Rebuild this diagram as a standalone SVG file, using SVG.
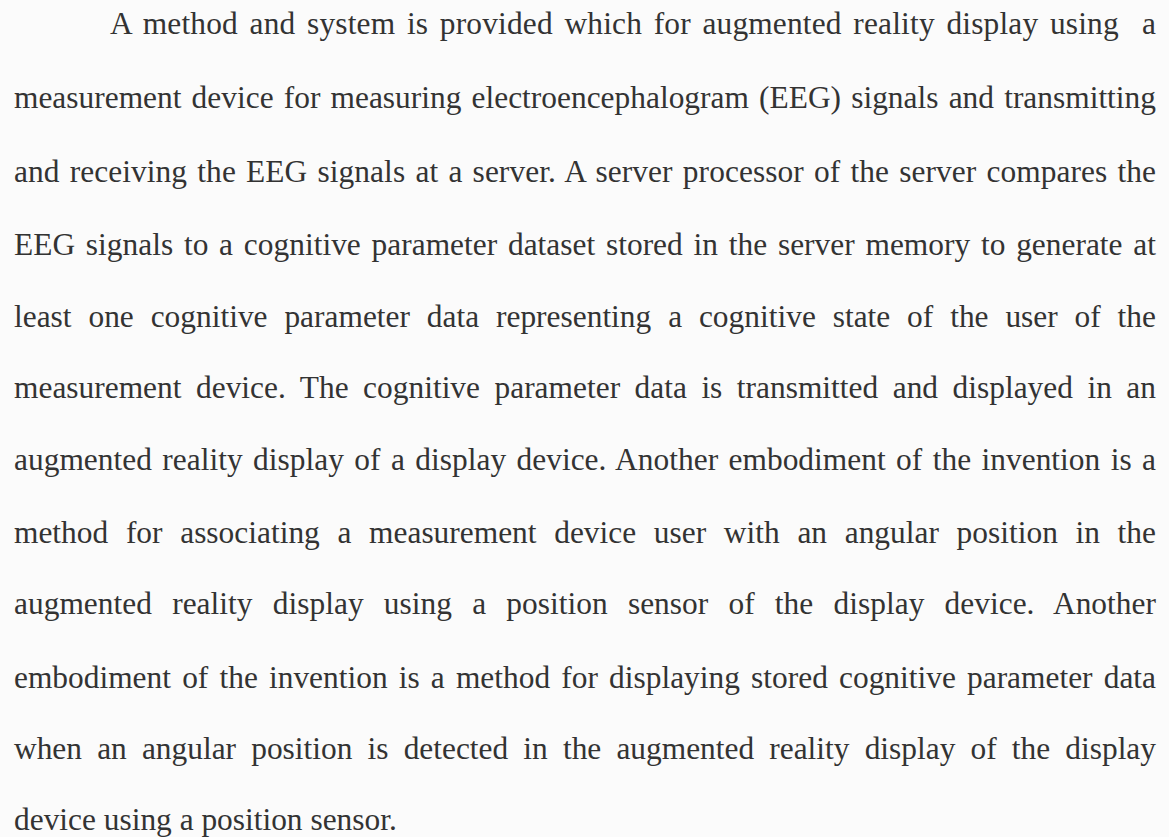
<svg xmlns="http://www.w3.org/2000/svg" width="1169" height="837" viewBox="0 0 1169 837">
  <style>
    .body { font-family: "Liberation Serif", "Times New Roman", serif; font-size: 31.4px; fill: #333333; white-space: pre; }
  </style>
  <!-- page -->
  <rect x="0" y="0" width="1169" height="837" fill="#fbfbfb"/>
  <!-- abstract paragraph, justified line by line -->
  <g id="abstract" class="body">
    <text x="110" y="34" textLength="1046" lengthAdjust="spacing" word-spacing="3.6">A method and system is provided which for augmented reality display using&#160; a</text>
    <text x="14" y="108" textLength="1142" lengthAdjust="spacing" word-spacing="2.3">measurement device for measuring electroencephalogram (EEG) signals and transmitting</text>
    <text x="14" y="182" textLength="1142" lengthAdjust="spacing" word-spacing="2.3">and receiving the EEG signals at a server. A server processor of the server compares the</text>
    <text x="14" y="255" textLength="1142" lengthAdjust="spacing" word-spacing="2.9">EEG signals to a cognitive parameter dataset stored in the server memory to generate at</text>
    <text x="14" y="327" textLength="1142" lengthAdjust="spacing" word-spacing="9">least one cognitive parameter data representing a cognitive state of the user of the</text>
    <text x="14" y="398" textLength="1142" lengthAdjust="spacing" word-spacing="6.6">measurement device. The cognitive parameter data is transmitted and displayed in an</text>
    <text x="14" y="470" textLength="1142" lengthAdjust="spacing" word-spacing="2.5">augmented reality display of a display device. Another embodiment of the invention is a</text>
    <text x="14" y="543" textLength="1142" lengthAdjust="spacing" word-spacing="9.8">method for associating a measurement device user with an angular position in the</text>
    <text x="14" y="614" textLength="1142" lengthAdjust="spacing" word-spacing="12.3">augmented reality display using a position sensor of the display device. Another</text>
    <text x="14" y="688" textLength="1142" lengthAdjust="spacing" word-spacing="3.3">embodiment of the invention is a method for displaying stored cognitive parameter data</text>
    <text x="14" y="759" textLength="1142" lengthAdjust="spacing" word-spacing="7.3">when an angular position is detected in the augmented reality display of the display</text>
    <text x="14" y="830">device using a position sensor.</text>
  </g>
</svg>
